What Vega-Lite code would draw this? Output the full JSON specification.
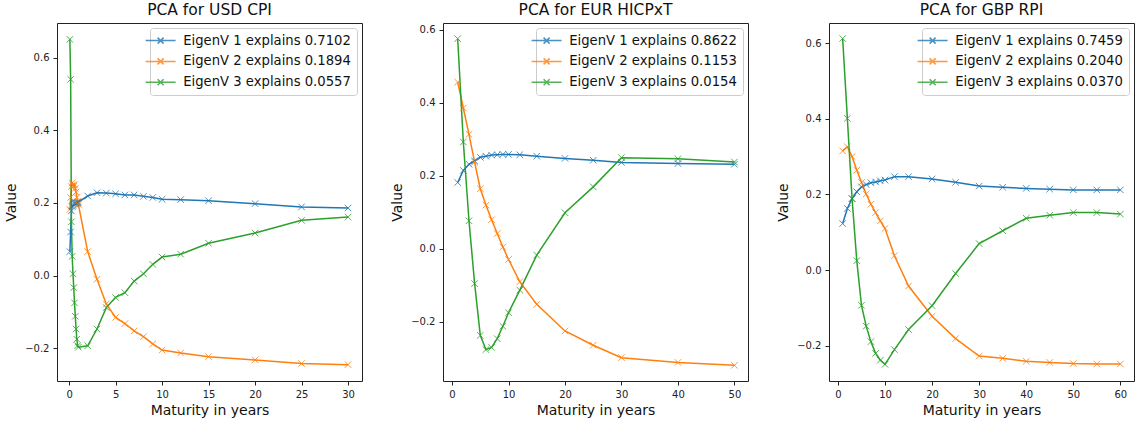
{
  "$schema": "https://vega.github.io/schema/vega-lite/v6.json",
  "padding": {"left": 4, "top": 2, "right": 0, "bottom": 0},
  "datasets": {
    "usd": [
      {"m": 0.083, "e1": 0.066, "e2": 0.182, "e3": 0.65},
      {"m": 0.167, "e1": 0.12, "e2": 0.215, "e3": 0.54},
      {"m": 0.25, "e1": 0.178, "e2": 0.245, "e3": 0.148},
      {"m": 0.333, "e1": 0.19, "e2": 0.255, "e3": 0.053},
      {"m": 0.417, "e1": 0.193, "e2": 0.25, "e3": 0.005},
      {"m": 0.5, "e1": 0.196, "e2": 0.245, "e3": -0.033},
      {"m": 0.583, "e1": 0.198, "e2": 0.25, "e3": -0.075},
      {"m": 0.667, "e1": 0.199, "e2": 0.24, "e3": -0.112},
      {"m": 0.75, "e1": 0.2, "e2": 0.23, "e3": -0.147},
      {"m": 0.833, "e1": 0.2, "e2": 0.215, "e3": -0.175},
      {"m": 0.917, "e1": 0.201, "e2": 0.205, "e3": -0.193},
      {"m": 1, "e1": 0.202, "e2": 0.196, "e3": -0.197},
      {"m": 2, "e1": 0.219, "e2": 0.066, "e3": -0.193},
      {"m": 3, "e1": 0.228, "e2": -0.01, "e3": -0.147},
      {"m": 4, "e1": 0.227, "e2": -0.078, "e3": -0.088},
      {"m": 5, "e1": 0.225, "e2": -0.115, "e3": -0.06},
      {"m": 6, "e1": 0.222, "e2": -0.132, "e3": -0.047},
      {"m": 7, "e1": 0.222, "e2": -0.152, "e3": -0.015},
      {"m": 8, "e1": 0.218, "e2": -0.168, "e3": 0.005},
      {"m": 9, "e1": 0.215, "e2": -0.188, "e3": 0.031},
      {"m": 10, "e1": 0.21, "e2": -0.205, "e3": 0.051},
      {"m": 12, "e1": 0.209, "e2": -0.213, "e3": 0.059},
      {"m": 15, "e1": 0.206, "e2": -0.223, "e3": 0.089},
      {"m": 20, "e1": 0.198, "e2": -0.232, "e3": 0.117},
      {"m": 25, "e1": 0.189, "e2": -0.242, "e3": 0.152},
      {"m": 30, "e1": 0.186, "e2": -0.245, "e3": 0.161}
    ],
    "eur": [
      {"m": 1, "e1": 0.181, "e2": 0.456, "e3": 0.575},
      {"m": 2, "e1": 0.214, "e2": 0.385, "e3": 0.292},
      {"m": 3, "e1": 0.231, "e2": 0.313, "e3": 0.076},
      {"m": 4, "e1": 0.24, "e2": 0.237, "e3": -0.096},
      {"m": 5, "e1": 0.25, "e2": 0.164, "e3": -0.238},
      {"m": 6, "e1": 0.253, "e2": 0.119, "e3": -0.277},
      {"m": 7, "e1": 0.256, "e2": 0.079, "e3": -0.271},
      {"m": 8, "e1": 0.257, "e2": 0.041, "e3": -0.247},
      {"m": 9, "e1": 0.258, "e2": 0.004, "e3": -0.213},
      {"m": 10, "e1": 0.258, "e2": -0.03, "e3": -0.176},
      {"m": 12, "e1": 0.257, "e2": -0.091, "e3": -0.114},
      {"m": 15, "e1": 0.253, "e2": -0.153, "e3": -0.018},
      {"m": 20, "e1": 0.247, "e2": -0.226, "e3": 0.098},
      {"m": 25, "e1": 0.242, "e2": -0.265, "e3": 0.169},
      {"m": 30, "e1": 0.236, "e2": -0.299, "e3": 0.249},
      {"m": 40, "e1": 0.233, "e2": -0.312, "e3": 0.246},
      {"m": 50, "e1": 0.231, "e2": -0.32, "e3": 0.237}
    ],
    "gbp": [
      {"m": 1, "e1": 0.123, "e2": 0.315, "e3": 0.612},
      {"m": 2, "e1": 0.163, "e2": 0.326, "e3": 0.401},
      {"m": 3, "e1": 0.189, "e2": 0.3, "e3": 0.189},
      {"m": 4, "e1": 0.207, "e2": 0.264, "e3": 0.025},
      {"m": 5, "e1": 0.22, "e2": 0.232, "e3": -0.093},
      {"m": 6, "e1": 0.226, "e2": 0.201, "e3": -0.148},
      {"m": 7, "e1": 0.231, "e2": 0.174, "e3": -0.189},
      {"m": 8, "e1": 0.233, "e2": 0.152, "e3": -0.22},
      {"m": 9, "e1": 0.236, "e2": 0.13, "e3": -0.238},
      {"m": 10, "e1": 0.238, "e2": 0.11, "e3": -0.249},
      {"m": 12, "e1": 0.247, "e2": 0.038, "e3": -0.21},
      {"m": 15, "e1": 0.247, "e2": -0.042, "e3": -0.157},
      {"m": 20, "e1": 0.241, "e2": -0.122, "e3": -0.094},
      {"m": 25, "e1": 0.232, "e2": -0.181, "e3": -0.009},
      {"m": 30, "e1": 0.222, "e2": -0.227, "e3": 0.07},
      {"m": 35, "e1": 0.219, "e2": -0.233, "e3": 0.104},
      {"m": 40, "e1": 0.216, "e2": -0.241, "e3": 0.137},
      {"m": 45, "e1": 0.214, "e2": -0.244, "e3": 0.145},
      {"m": 50, "e1": 0.212, "e2": -0.247, "e3": 0.152},
      {"m": 55, "e1": 0.212, "e2": -0.248, "e3": 0.152},
      {"m": 60, "e1": 0.212, "e2": -0.248, "e3": 0.148}
    ]
  },
  "spacing": 27,
  "resolve": {
    "scale": {"x": "independent", "y": "independent", "color": "independent"},
    "legend": {"color": "independent"}
  },
  "hconcat": [
    {
      "width": 305, "height": 358,
      "title": "PCA for USD CPI",
      "data": {"name": "usd"},
      "transform": [{"fold": ["e1", "e2", "e3"], "as": ["key", "v"]}],
      "encoding": {
        "x": {"field": "m", "type": "quantitative", "title": "Maturity in years",
              "scale": {"domain": [-1.3, 31.5], "nice": false, "zero": false},
              "axis": {"values": [0, 5, 10, 15, 20, 25, 30]}},
        "y": {"field": "v", "type": "quantitative", "title": "Value",
              "scale": {"domain": [-0.29, 0.695], "nice": false, "zero": false},
              "axis": {"values": [-0.2, 0, 0.2, 0.4, 0.6], "format": ".1f"}},
        "color": {"field": "key", "type": "nominal",
                  "scale": {"domain": ["e1", "e2", "e3"], "range": ["#1f77b4", "#ff7f0e", "#2ca02c"]},
                  "legend": {"labelExpr": "datum.label == 'e1' ? 'EigenV 1 explains 0.7102' : datum.label == 'e2' ? 'EigenV 2 explains 0.1894' : 'EigenV 3 explains 0.0557'"}}
      },
      "layer": [
        {"mark": {"type": "line", "strokeWidth": 1.5}},
        {"mark": {"type": "point", "shape": "M-1,-1L1,1M-1,1L1,-1", "size": 42, "filled": false, "strokeWidth": 1, "opacity": 0.8}}
      ]
    },
    {
      "width": 305, "height": 358,
      "title": "PCA for EUR HICPxT",
      "data": {"name": "eur"},
      "transform": [{"fold": ["e1", "e2", "e3"], "as": ["key", "v"]}],
      "encoding": {
        "x": {"field": "m", "type": "quantitative", "title": "Maturity in years",
              "scale": {"domain": [-1.6, 52.4], "nice": false, "zero": false},
              "axis": {"values": [0, 10, 20, 30, 40, 50]}},
        "y": {"field": "v", "type": "quantitative", "title": "Value",
              "scale": {"domain": [-0.363, 0.618], "nice": false, "zero": false},
              "axis": {"values": [-0.2, 0, 0.2, 0.4, 0.6], "format": ".1f"}},
        "color": {"field": "key", "type": "nominal",
                  "scale": {"domain": ["e1", "e2", "e3"], "range": ["#1f77b4", "#ff7f0e", "#2ca02c"]},
                  "legend": {"labelExpr": "datum.label == 'e1' ? 'EigenV 1 explains 0.8622' : datum.label == 'e2' ? 'EigenV 2 explains 0.1153' : 'EigenV 3 explains 0.0154'"}}
      },
      "layer": [
        {"mark": {"type": "line", "strokeWidth": 1.5}},
        {"mark": {"type": "point", "shape": "M-1,-1L1,1M-1,1L1,-1", "size": 42, "filled": false, "strokeWidth": 1, "opacity": 0.8}}
      ]
    },
    {
      "width": 305, "height": 358,
      "title": "PCA for GBP RPI",
      "data": {"name": "gbp"},
      "transform": [{"fold": ["e1", "e2", "e3"], "as": ["key", "v"]}],
      "encoding": {
        "x": {"field": "m", "type": "quantitative", "title": "Maturity in years",
              "scale": {"domain": [-1.9, 62.9], "nice": false, "zero": false},
              "axis": {"values": [0, 10, 20, 30, 40, 50, 60]}},
        "y": {"field": "v", "type": "quantitative", "title": "Value",
              "scale": {"domain": [-0.293, 0.653], "nice": false, "zero": false},
              "axis": {"values": [-0.2, 0, 0.2, 0.4, 0.6], "format": ".1f"}},
        "color": {"field": "key", "type": "nominal",
                  "scale": {"domain": ["e1", "e2", "e3"], "range": ["#1f77b4", "#ff7f0e", "#2ca02c"]},
                  "legend": {"labelExpr": "datum.label == 'e1' ? 'EigenV 1 explains 0.7459' : datum.label == 'e2' ? 'EigenV 2 explains 0.2040' : 'EigenV 3 explains 0.0370'"}}
      },
      "layer": [
        {"mark": {"type": "line", "strokeWidth": 1.5}},
        {"mark": {"type": "point", "shape": "M-1,-1L1,1M-1,1L1,-1", "size": 42, "filled": false, "strokeWidth": 1, "opacity": 0.8}}
      ]
    }
  ],
  "config": {
    "font": "DejaVu Sans",
    "background": "white",
    "view": {"stroke": "#222222", "strokeWidth": 1},
    "axis": {
      "domain": false, "grid": false,
      "tickColor": "#222222", "tickSize": 4, "tickWidth": 1,
      "labelFont": "DejaVu Sans", "labelFontSize": 10, "labelColor": "#222222", "labelPadding": 4,
      "titleFont": "DejaVu Sans", "titleFontSize": 14, "titleFontWeight": "normal", "titleColor": "#111111"
    },
    "axisY": {"titlePadding": 6},
    "axisX": {"titlePadding": 4},
    "title": {"font": "DejaVu Sans", "fontSize": 15.5, "fontWeight": "normal", "color": "#111111", "offset": 5},
    "legend": {
      "orient": "top-right", "offset": 5, "title": null,
      "fillColor": "rgba(255,255,255,0.85)", "strokeColor": "#cccccc", "cornerRadius": 3, "padding": 6,
      "labelFont": "DejaVu Sans", "labelFontSize": 13.2, "labelColor": "#111111", "labelLimit": 400,
      "symbolType": "M-3,0L3,0M-0.6,-0.6L0.6,0.6M-0.6,0.6L0.6,-0.6",
      "symbolSize": 100, "symbolStrokeWidth": 1.5, "symbolFillColor": "transparent",
      "rowPadding": 6.8, "symbolOffset": -2, "labelOffset": 16
    }
  }
}
